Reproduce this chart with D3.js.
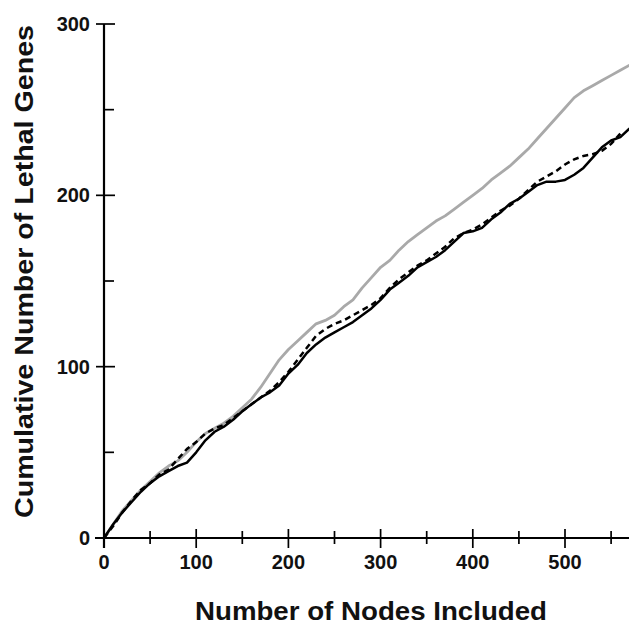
<!DOCTYPE html>
<html><head><meta charset="utf-8">
<script src="https://cdn.jsdelivr.net/npm/d3@7/dist/d3.min.js"></script>
<style>body{margin:0;background:#fff}svg{display:block}</style>
</head><body>
<svg id="c" width="629" height="624"></svg>
<script>
const nodes = [0,10,20,30,40,50,60,70,80,90,100,110,120,130,140,150,160,170,180,190,200,210,220,230,240,250,260,270,280,290,300,310,320,330,340,350,360,370,380,390,400,410,420,430,440,450,460,470,480,490,500,510,520,530,540,550,560,570];
const grayVals = [0,8,16,22,28,33,38,42,45,50,56,61,64,67,71,76,81,88,96,104,110,115,120,125,127,130,135,139,146,152,158,162,168,173,177,181,185,188,192,196,200,204,209,213,217,222,227,233,239,245,251,257,261,264,267,270,273,276];
const solidVals = [0,8,15,21,27,32,36,39,42,44,50,57,62,65,69,74,78,82,85,89,96,101,108,113,117,120,123,126,130,134,139,145,149,153,158,161,164,168,173,178,179,181,186,190,195,198,202,206,208,208,209,212,216,222,228,232,234,239];
const dashedVals = [0,7,15,22,28,32,37,40,46,52,56,61,64,66,70,74,78,82,86,91,97,104,111,118,122,125,127,130,133,136,140,146,151,155,159,162,166,170,175,178,180,183,187,191,194,198,203,208,211,214,218,221,223,224,226,230,236];
const xMajor = [0,100,200,300,400,500];
const xMinor = [50,150,250,350,450,550];
const yMajor = [0,100,200,300];
const yMinor = [50,150,250];

const svg = d3.select("#c");
const x = d3.scaleLinear().domain([0,570]).range([104, 104+570*0.922]);
const y = d3.scaleLinear().domain([0,300]).range([538,24]);
const font = "'Liberation Sans', Arial, sans-serif";

const line = d3.line().x(d=>x(d[0])).y(d=>y(d[1]));
const mk = vals => vals.map((v,i)=>[nodes[i], v]);

svg.append("path").datum(mk(grayVals)).attr("d", line)
  .attr("fill","none").attr("stroke","#a9a9a9").attr("stroke-width",2.8).attr("stroke-linejoin","round");
svg.append("path").datum(mk(dashedVals)).attr("d", line)
  .attr("fill","none").attr("stroke","#000").attr("stroke-width",2.5).attr("stroke-dasharray","6,4");
svg.append("path").datum(mk(solidVals)).attr("d", line)
  .attr("fill","none").attr("stroke","#000").attr("stroke-width",2.5).attr("stroke-linejoin","round");

// axes lines
svg.append("line").attr("x1", x(0)-9).attr("x2", 629).attr("y1", y(0)).attr("y2", y(0))
  .attr("stroke","#000").attr("stroke-width",2.2);
svg.append("line").attr("x1", x(0)).attr("x2", x(0)).attr("y1", y(300)).attr("y2", y(0)+10)
  .attr("stroke","#000").attr("stroke-width",2.2);

// x ticks
svg.selectAll(".xM").data(xMajor).enter().append("line")
  .attr("x1",d=>x(d)).attr("x2",d=>x(d)).attr("y1",y(0)-9).attr("y2",y(0)+10)
  .attr("stroke","#000").attr("stroke-width",1.7);
svg.selectAll(".xm").data(xMinor).enter().append("line")
  .attr("x1",d=>x(d)).attr("x2",d=>x(d)).attr("y1",y(0)-7).attr("y2",y(0)+6)
  .attr("stroke","#000").attr("stroke-width",1.7);
svg.selectAll(".xl").data(xMajor).enter().append("text")
  .attr("x",d=>x(d)).attr("y",y(0)+31).attr("text-anchor","middle")
  .attr("font-family",font).attr("font-weight","bold").attr("font-size",20).attr("fill","#111")
  .text(d=>d);

// y ticks
svg.selectAll(".yM").data(yMajor).enter().append("line")
  .attr("x1",x(0)-8).attr("x2",x(0)+11).attr("y1",d=>y(d)).attr("y2",d=>y(d))
  .attr("stroke","#000").attr("stroke-width",1.7);
svg.selectAll(".ym").data(yMinor).enter().append("line")
  .attr("x1",x(0)).attr("x2",x(0)+10).attr("y1",d=>y(d)).attr("y2",d=>y(d))
  .attr("stroke","#000").attr("stroke-width",1.7);
svg.selectAll(".yl").data(yMajor).enter().append("text")
  .attr("x",90).attr("y",d=>y(d)+7).attr("text-anchor","end")
  .attr("font-family",font).attr("font-weight","bold").attr("font-size",20).attr("fill","#111")
  .text(d=>d);

// titles
svg.append("text").attr("x",371).attr("y",620).attr("text-anchor","middle")
  .attr("font-family",font).attr("font-weight","bold").attr("font-size",25).attr("fill","#111")
  .attr("textLength",352).attr("lengthAdjust","spacingAndGlyphs")
  .text("Number of Nodes Included");
svg.append("text").attr("transform","translate(33,271.5) rotate(-90)").attr("text-anchor","middle")
  .attr("font-family",font).attr("font-weight","bold").attr("font-size",25).attr("fill","#111")
  .attr("textLength",493).attr("lengthAdjust","spacingAndGlyphs")
  .text("Cumulative Number of Lethal Genes");
</script>
</body></html>
